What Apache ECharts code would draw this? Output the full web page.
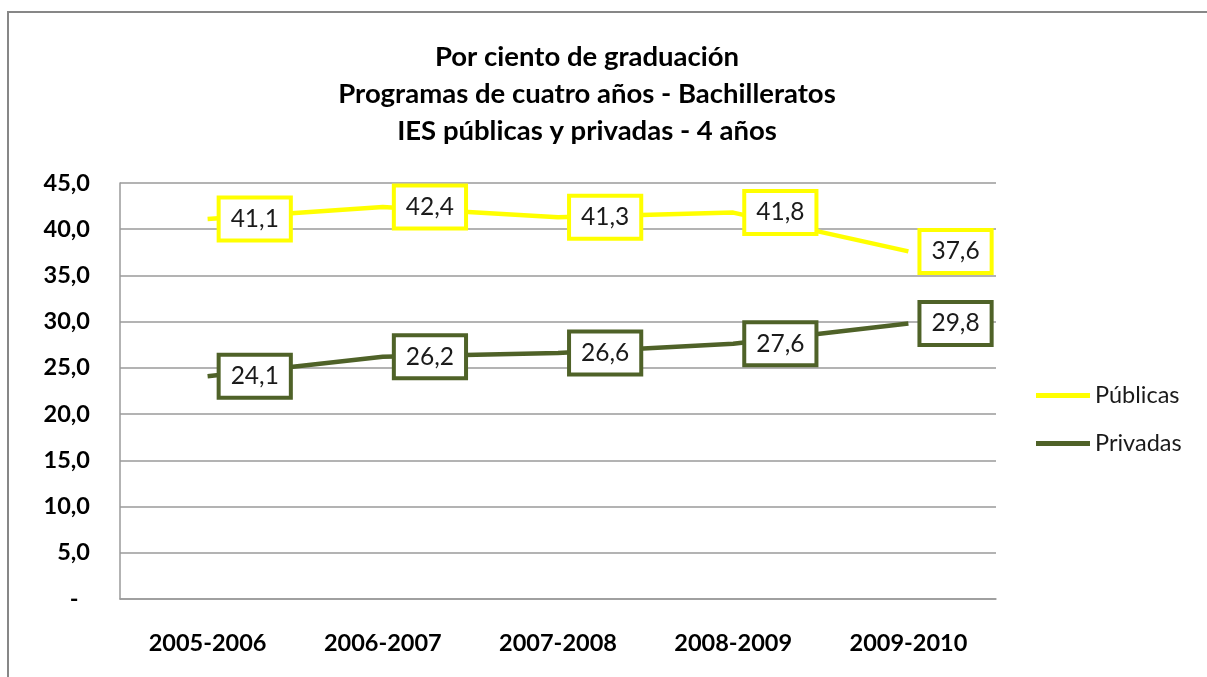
<!DOCTYPE html>
<html>
<head>
<meta charset="utf-8">
<script src="https://cdn.jsdelivr.net/npm/echarts@6/dist/echarts.min.js"></script>
<style>
  html, body { margin: 0; padding: 0; background: #fff; }
  #chart { width: 1207px; height: 677px; }
</style>
</head>
<body>
<div id="chart"></div>
<script>
// datos
var periodos = ['2005-2006', '2006-2007', '2007-2008', '2008-2009', '2009-2010'];
var publicas = [41.1, 42.4, 41.3, 41.8, 37.6];
var privadas = [24.1, 26.2, 26.6, 27.6, 29.8];
var nombres = ['Públicas', 'Privadas'];
var colores = ['#ffff00', '#4f6228'];

function coma(v) {
  return v.toFixed(1).replace('.', ',');
}

function etiqueta(color) {
  return {
    show: true,
    position: 'right',
    distance: 13,
    formatter: function (p) { return coma(p.value); },
    fontFamily: 'Lato',
    fontSize: 24.5,
    color: '#1a1a1a',
    lineHeight: 27,
    backgroundColor: '#fff',
    borderColor: color,
    borderWidth: 4,
    padding: [6, 10]
  };
}

var chart = echarts.init(document.getElementById('chart'));
chart.setOption({
  animation: false,
  graphic: [{
    type: 'rect',
    shape: { x: 8, y: 12, width: 1260, height: 720 },
    style: { fill: 'none', stroke: '#878787', lineWidth: 2 },
    z: -1
  }],
  title: {
    text: 'Por ciento de graduación\nProgramas de cuatro años - Bachilleratos\nIES públicas y privadas - 4 años',
    left: 582,
    top: 34,
    padding: 5,
    textAlign: 'center',
    textStyle: {
      fontFamily: 'Lato',
      fontWeight: 'bold',
      fontSize: 27.5,
      lineHeight: 37,
      color: '#000'
    }
  },
  legend: {
    orient: 'vertical',
    left: 1036,
    top: 382,
    padding: 0,
    itemWidth: 54,
    itemHeight: 5,
    itemGap: 21,
    icon: 'rect',
    data: nombres,
    textStyle: {
      fontFamily: 'Lato',
      fontSize: 23.5,
      lineHeight: 27,
      color: '#1a1a1a'
    }
  },
  grid: { left: 120, right: 211, top: 183, bottom: 78 },
  xAxis: {
    type: 'category',
    data: periodos,
    boundaryGap: true,
    axisLine: { lineStyle: { color: '#9a9a9a', width: 1.5 } },
    axisTick: { show: false },
    axisLabel: {
      margin: 32,
      fontFamily: 'Lato',
      fontWeight: 'bold',
      fontSize: 23.5,
      color: '#000'
    }
  },
  yAxis: {
    type: 'value',
    min: 0,
    max: 45,
    interval: 5,
    axisLine: { show: true, lineStyle: { color: '#9a9a9a', width: 1.5 } },
    axisTick: { show: false },
    splitLine: { lineStyle: { color: '#9a9a9a', width: 1.5 } },
    axisLabel: {
      margin: 30,
      fontFamily: 'Lato',
      fontWeight: 'bold',
      fontSize: 23.5,
      color: '#000',
      formatter: function (v) { return v === 0 ? '-  ' : coma(v); }
    }
  },
  series: [
    {
      name: nombres[0],
      type: 'line',
      data: publicas,
      color: colores[0],
      symbol: 'circle',
      symbolSize: 0.1,
      lineStyle: { width: 4.5, color: colores[0] },
      label: etiqueta(colores[0])
    },
    {
      name: nombres[1],
      type: 'line',
      data: privadas,
      color: colores[1],
      symbol: 'circle',
      symbolSize: 0.1,
      lineStyle: { width: 4.5, color: colores[1] },
      label: etiqueta(colores[1])
    }
  ]
});
</script>
</body>
</html>
